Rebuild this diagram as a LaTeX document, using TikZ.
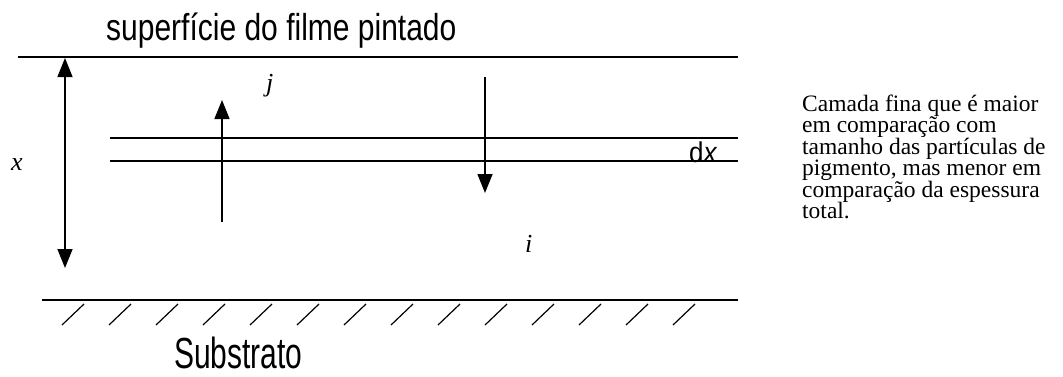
\documentclass[tikz,border=0pt]{standalone}
\usepackage{fontspec}
\setmainfont{Liberation Serif}
\newfontfamily\arialf{Liberation Sans}
\usetikzlibrary{arrows.meta}
\begin{document}
\begin{tikzpicture}[x=1pt,y=-1pt,
  ln/.style={line width=1.5pt},
  arr/.style={line width=1.5pt,-{Triangle[length=19pt,width=15pt]}},
  darr/.style={line width=1.5pt,{Triangle[length=19pt,width=15pt]}-{Triangle[length=19pt,width=15pt]}},
  hatch/.style={line width=1.2pt},
  sans/.style={font=\arialf\fontsize{30}{33}\selectfont, inner sep=0pt},
  var/.style={font=\fontsize{26}{28}\selectfont\itshape, inner sep=0pt},
  note/.style={font=\fontsize{23.5}{24}\selectfont, inner sep=0pt, anchor=base west},
]
\useasboundingbox (0,0) rectangle (1063,376);
% surface
\coordinate (tl) at (18,57); \coordinate (tr) at (738,57);
\draw[ln] (tl) -- (tr);
\node[sans, anchor=base west] (title) at (106,40) {\scalebox{1}[1.25]{superfície do filme pintado}};
% thin layer
\coordinate (l1a) at (110,138); \coordinate (l1b) at (738,138);
\coordinate (l2a) at (110,161); \coordinate (l2b) at (738,161);
\draw[ln] (l1a) -- (l1b);
\draw[ln] (l2a) -- (l2b);
\node[font=\arialf\fontsize{26}{28}\selectfont, inner sep=0pt, anchor=base west] (dx) at (689,162) {\scalebox{1}[1.1]{d\textit{x}}};
% x arrow
\coordinate (xa) at (65,58); \coordinate (xb) at (65,268);
\draw[darr] (xa) -- (xb);
\node[var, anchor=base west] (xl) at (11,170) {x};
% j arrow
\coordinate (ja) at (222,222); \coordinate (jb) at (222,100);
\draw[arr] (ja) -- (jb);
\node[var, anchor=base west] (jl) at (266,91) {j};
% i arrow
\coordinate (ia) at (485,77); \coordinate (ib) at (485,193);
\draw[arr] (ia) -- (ib);
\node[var, anchor=base west] (il) at (525,252) {i};
% substrate
\coordinate (ba) at (42,300); \coordinate (bb) at (738,300);
\draw[ln] (ba) -- (bb);
\foreach \k in {0,...,13} {
  \draw[hatch] ({62+47*\k},325) -- ({84+47*\k},304);
}
\node[sans, anchor=base west] (sub) at (174,368) {\scalebox{1}[1.45]{Substrato}};
% note
\node[note] (n1) at (802,111) {Camada fina que é maior};
\node[note] (n2) at (802,132.5) {em comparação com};
\node[note] (n3) at (802,154) {tamanho das partículas de};
\node[note] (n4) at (802,175.5) {pigmento, mas menor em};
\node[note] (n5) at (802,197) {comparação da espessura};
\node[note] (n6) at (802,218.5) {total.};
\end{tikzpicture}
\end{document}
